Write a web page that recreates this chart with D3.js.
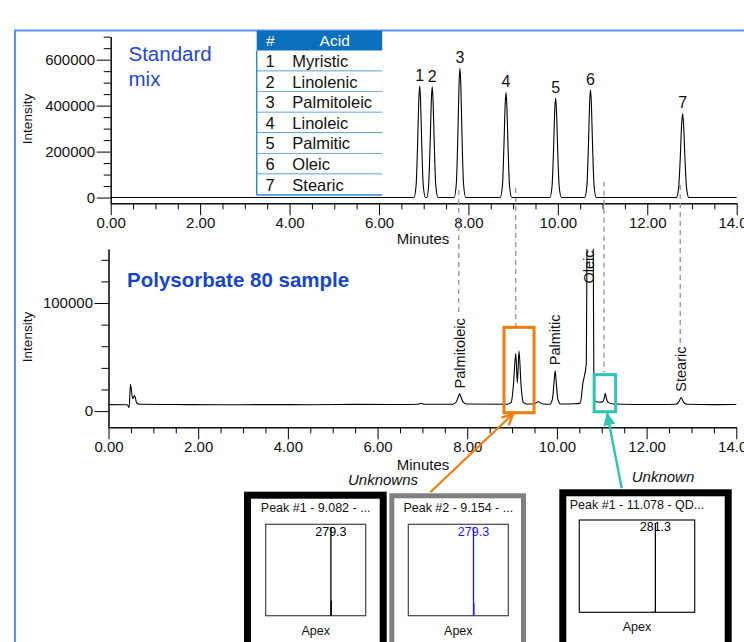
<!DOCTYPE html>
<html>
<head>
<meta charset="utf-8">
<script src="https://cdn.jsdelivr.net/npm/d3@7"></script>
<style>
  body { margin: 0; background: #fff; overflow: hidden; }
  svg { display: block; font-family: "Liberation Sans", Arial, sans-serif; }
</style>
</head>
<body>
<svg id="chart" width="744" height="642"></svg>
<script>
// ---------- data ----------
const acidNumbers = ['1', '2', '3', '4', '5', '6', '7'];
const acidNames = ['Myristic', 'Linolenic', 'Palmitoleic', 'Linoleic', 'Palmitic', 'Oleic', 'Stearic'];

const standardPeakTimes   = [6.91, 7.19, 7.81, 8.84, 9.95, 10.73, 12.79];
const standardPeakHeights = [486000, 483000, 563000, 458000, 433000, 470000, 366000];

// standard mix chromatogram [minutes, intensity]
const standardTrace = [
  [0, 0], [6.78, 0],
  [6.83, 53000], [6.865, 243000], [6.89, 423000], [6.91, 486000], [6.93, 423000], [6.955, 243000], [6.99, 53000], [7.04, 0],
  [7.07, 0], [7.11, 53000], [7.145, 241000], [7.17, 420000], [7.19, 483000], [7.21, 420000], [7.235, 241000], [7.27, 53000], [7.32, 0],
  [7.68, 0], [7.73, 62000], [7.765, 281000], [7.79, 490000], [7.81, 563000], [7.83, 490000], [7.855, 281000], [7.89, 62000], [7.94, 0],
  [8.71, 0], [8.76, 50000], [8.795, 229000], [8.82, 398000], [8.84, 458000], [8.86, 398000], [8.885, 229000], [8.92, 50000], [8.97, 0],
  [9.82, 0], [9.87, 48000], [9.905, 216000], [9.93, 377000], [9.95, 433000], [9.97, 377000], [9.995, 216000], [10.03, 48000], [10.08, 0],
  [10.6, 0], [10.65, 52000], [10.685, 235000], [10.71, 409000], [10.73, 470000], [10.75, 409000], [10.775, 235000], [10.81, 52000], [10.86, 0],
  [12.65, 0], [12.70, 40000], [12.74, 183000], [12.768, 318000], [12.79, 366000], [12.812, 318000], [12.84, 183000], [12.88, 40000], [12.93, 0],
  [14, 0]
];

// polysorbate 80 sample chromatogram [minutes, intensity]
const sampleTrace = [
  [0, 6000], [0.42, 5800], [0.46, 3200], [0.49, 24800], [0.54, 11500], [0.58, 14300], [0.63, 7500], [0.7, 6300],
  [1.5, 6100], [2.5, 5800], [3.5, 6000], [4.5, 5900], [5.5, 6200], [6.5, 6100],
  [6.9, 6300], [6.97, 7300], [7.04, 6300],
  [7.68, 6400], [7.75, 8200], [7.8, 13000], [7.83, 15900], [7.86, 13000], [7.91, 8200], [7.98, 6500],
  [8.9, 6400], [8.98, 8000], [9.03, 24000], [9.082, 53300], [9.118, 26000], [9.154, 55500], [9.2, 24000], [9.25, 8000], [9.32, 6600],
  [9.5, 6800], [9.58, 8600], [9.68, 6600],
  [9.84, 6400], [9.9, 11000], [9.93, 24000], [9.96, 37400], [9.99, 24000], [10.02, 11000], [10.08, 6500],
  [10.4, 6800], [10.52, 7400], [10.58, 26000], [10.655, 44000], [10.67, 150000], [10.7, 230000], [10.74, 250000],
  [10.79, 230000], [10.81, 150000], [10.825, 20000], [10.86, 8800], [10.95, 8200],
  [11.02, 8500], [11.05, 11000], [11.078, 16500], [11.11, 10500], [11.16, 7600], [11.25, 6600],
  [12.2, 6100], [12.65, 6300], [12.72, 8500], [12.77, 12500], [12.82, 8500], [12.9, 6300],
  [13.5, 6000], [14, 6100]
];

const sampleLabels      = ['Palmitoleic', 'Palmitic', 'Oleic', 'Stearic'];
const sampleLabelTimes  = [7.83, 9.96, 10.72, 12.77];
const sampleLabelBases  = [21000, 42500, 118000, 18000];

// dashed guides linking the two runs
const guideTimes        = [7.81, 9.082, 11.05, 12.75];
const guideTopValues    = [33000, 42000, 69000, 55000];
const guideBottomValues = [91500, 77500, 35500, 63000];

// axis ticks
const xMajorTicks = [0, 2, 4, 6, 8, 10, 12, 14];
const xMinorTicks = [0.5, 1, 1.5, 2.5, 3, 3.5, 4.5, 5, 5.5, 6.5, 7, 7.5, 8.5, 9, 9.5, 10.5, 11, 11.5, 12.5, 13, 13.5];
const topMajorTicks = [0, 200000, 400000, 600000];
const topMinorTicks = [50000, 100000, 150000, 250000, 300000, 350000, 450000, 500000, 550000, 650000, 700000];
const botMajorTicks = [0, 100000];
const botMinorTicks = [20000, 40000, 60000, 80000, 120000, 140000];

// highlighted regions [t0, t1, v0, v1]
const unknownsBox = [8.82, 9.49, -1500, 77500];
const unknownBox  = [10.83, 11.31, -600, 33700];

// MS spectra insets
const spectrumTitles = ['Peak #1 - 9.082 - ...', 'Peak #2 - 9.154 - ...', 'Peak #1 - 11.078 - QD...'];
const spectrumLabels = ['279.3', '279.3', '281.3'];
const spectrumMz     = [[279.3, 280.3], [279.3, 280.3], [281.3, 276.0]];
const spectrumRel    = [[100, 17], [100, 14], [100, 1]];
const spectrumColors = ['#000', '#1a1aff', '#000'];

// ---------- layout ----------
const font = '"Liberation Sans", Arial, sans-serif';
const svg = d3.select('#chart');

const xTop = d3.scaleLinear().domain([0, 14]).range([110.7, 736.7]);
const yTop = d3.scaleLinear().domain([-25000, 700000]).range([203.3, 36.7]);
const xBot = d3.scaleLinear().domain([0, 14]).range([108.5, 736.3]);
const yBot = d3.scaleLinear().domain([-15000, 150000]).range([427.3, 249]);

// outer frame
svg.append('rect')
  .attr('x', 15).attr('y', 30.5).attr('width', 760).attr('height', 650)
  .attr('fill', 'none').attr('stroke', '#5b93ee').attr('stroke-width', 2);

svg.append('defs').call(defs => {
  defs.append('clipPath').attr('id', 'clipBot')
    .append('rect').attr('x', 100).attr('y', yBot.range()[1]).attr('width', 640).attr('height', 200);
  defs.append('marker').attr('id', 'arrowOrange')
    .attr('viewBox', '0 0 12 12').attr('refX', 11).attr('refY', 6)
    .attr('markerWidth', 13).attr('markerHeight', 13).attr('markerUnits', 'userSpaceOnUse')
    .attr('orient', 'auto')
    .append('path').attr('d', 'M1,1 L11,6 L1,11').attr('fill', 'none')
      .attr('stroke', '#ef7d0a').attr('stroke-width', 2.2);
  defs.append('marker').attr('id', 'arrowTeal')
    .attr('viewBox', '0 0 12 12').attr('refX', 11).attr('refY', 6)
    .attr('markerWidth', 13).attr('markerHeight', 13).attr('markerUnits', 'userSpaceOnUse')
    .attr('orient', 'auto')
    .append('path').attr('d', 'M0,0.5 L12,6 L0,11.5 Z').attr('fill', '#2cc4b2');
});

function drawAxes(x, y, yMajor, yMinor, minutesY, intensityY) {
  const g = svg.append('g');
  const base = y.range()[0];
  const left = x.range()[0];

  g.append('g').attr('transform', `translate(0,${base})`)
    .call(d3.axisBottom(x).tickValues(xMinorTicks).tickSize(6).tickFormat('').tickSizeOuter(0));
  g.append('g').attr('transform', `translate(0,${base})`)
    .call(d3.axisBottom(x).tickValues(xMajorTicks).tickSize(12).tickPadding(2)
      .tickFormat(d3.format('.2f')).tickSizeOuter(0));
  g.append('g').attr('transform', `translate(${left},0)`)
    .call(d3.axisLeft(y).tickValues(yMinor).tickSize(7).tickFormat('').tickSizeOuter(0));
  g.append('g').attr('transform', `translate(${left},0)`)
    .call(d3.axisLeft(y).tickValues(yMajor).tickSize(14).tickPadding(1.5)
      .tickFormat(d3.format('d')).tickSizeOuter(0));

  g.selectAll('g').attr('font-size', 15).attr('font-family', font);
  g.selectAll('path.domain, line').attr('stroke', '#000');
  g.selectAll('text').attr('fill', '#111');

  g.append('text')
    .attr('x', 423).attr('y', minutesY).attr('text-anchor', 'middle')
    .attr('dy', '0.35em').attr('font-size', 15).attr('fill', '#111').text('Minutes');
  g.append('text')
    .attr('transform', `translate(27,${intensityY}) rotate(-90)`)
    .attr('text-anchor', 'middle').attr('dy', '0.35em')
    .attr('font-size', 13.5).attr('fill', '#111').text('Intensity');
}

drawAxes(xTop, yTop, topMajorTicks, topMinorTicks, 239, 119);
drawAxes(xBot, yBot, botMajorTicks, botMinorTicks, 465, 337);

// dashed guides
svg.append('g').selectAll('line')
  .data(guideTimes)
  .join('line')
    .attr('x1', d => xBot(d)).attr('x2', d => xBot(d))
    .attr('y1', (d, i) => yTop(guideTopValues[i]))
    .attr('y2', (d, i) => yBot(guideBottomValues[i]))
    .attr('stroke', '#9a9a9a').attr('stroke-width', 1.4)
    .attr('stroke-dasharray', '5,4');

// table of acids
const tbl = { x: 256.7, y: 30.7, w: 125.5, headH: 20, rowH: 20.6 };
const tg = svg.append('g');
tg.append('rect').attr('x', tbl.x).attr('y', tbl.y).attr('width', tbl.w).attr('height', tbl.headH)
  .attr('fill', '#0b6fbe');
tg.append('text').attr('x', tbl.x + 13.5).attr('y', tbl.y + tbl.headH / 2).attr('dy', '0.35em')
  .attr('text-anchor', 'middle').attr('fill', '#fff').attr('font-size', 15.5).text('#');
tg.append('text').attr('x', tbl.x + 78).attr('y', tbl.y + tbl.headH / 2).attr('dy', '0.35em')
  .attr('text-anchor', 'middle').attr('fill', '#fff').attr('font-size', 15.5).text('Acid');
const rows = tg.selectAll('g.row')
  .data(acidNames)
  .join('g').attr('class', 'row')
    .attr('transform', (d, i) => `translate(${tbl.x},${tbl.y + tbl.headH + i * tbl.rowH})`);
rows.append('rect').attr('width', tbl.w).attr('height', tbl.rowH).attr('fill', '#fff');
rows.append('line').attr('x1', 0).attr('x2', tbl.w).attr('y1', tbl.rowH).attr('y2', tbl.rowH)
  .attr('stroke', '#2f8ad0').attr('stroke-width', 1.5);
rows.append('text').attr('x', 13.5).attr('y', tbl.rowH / 2).attr('dy', '0.36em')
  .attr('text-anchor', 'middle').attr('font-size', 16.5).attr('fill', '#111')
  .text((d, i) => acidNumbers[i]);
rows.append('text').attr('x', 35.6).attr('y', tbl.rowH / 2).attr('dy', '0.36em')
  .attr('font-size', 16.5).attr('fill', '#111').text(d => d);
tg.append('line').attr('x1', tbl.x).attr('x2', tbl.x)
  .attr('y1', tbl.y + tbl.headH).attr('y2', tbl.y + tbl.headH + 7 * tbl.rowH)
  .attr('stroke', '#2f8ad0').attr('stroke-width', 1.5);

// titles
svg.append('text').attr('x', 128.5).attr('y', 60.5).attr('font-size', 20.5).attr('fill', '#1f48d6').text('Standard');
svg.append('text').attr('x', 128.5).attr('y', 85.5).attr('font-size', 20.5).attr('fill', '#1f48d6').text('mix');
svg.append('text').attr('x', 127).attr('y', 287).attr('font-size', 20.5).attr('font-weight', 'bold')
  .attr('fill', '#1546c9').text('Polysorbate 80 sample');

// traces
const lineTop = d3.line().x(d => xTop(d[0])).y(d => yTop(d[1])).curve(d3.curveMonotoneX);
const lineBot = d3.line().x(d => xBot(d[0])).y(d => yBot(d[1])).curve(d3.curveMonotoneX);

svg.append('path').datum(standardTrace)
  .attr('d', lineTop).attr('fill', 'none').attr('stroke', '#000').attr('stroke-width', 1.1);
svg.append('path').datum(sampleTrace)
  .attr('clip-path', 'url(#clipBot)')
  .attr('d', lineBot).attr('fill', 'none').attr('stroke', '#000').attr('stroke-width', 1.1);

// peak numbers on the standard
svg.append('g').selectAll('text')
  .data(standardPeakTimes)
  .join('text')
    .attr('x', d => xTop(d)).attr('y', (d, i) => yTop(standardPeakHeights[i]) - 5)
    .attr('text-anchor', 'middle').attr('font-size', 16).attr('fill', '#111')
    .text((d, i) => acidNumbers[i]);

// rotated names on the sample
svg.append('g').selectAll('text')
  .data(sampleLabels)
  .join('text')
    .attr('transform', (d, i) => `translate(${xBot(sampleLabelTimes[i])},${yBot(sampleLabelBases[i])}) rotate(-90)`)
    .attr('dy', '0.35em').attr('font-size', 14.5).attr('fill', '#111')
    .text(d => d);

// highlight boxes
function box(b, color) {
  svg.append('rect')
    .attr('x', xBot(b[0])).attr('y', yBot(b[3]))
    .attr('width', xBot(b[1]) - xBot(b[0])).attr('height', yBot(b[2]) - yBot(b[3]))
    .attr('fill', 'none').attr('stroke', color).attr('stroke-width', 3);
}
box(unknownsBox, '#ef7d0a');
box(unknownBox, '#2cc4b2');

// spectrum insets
const panelLayout = [
  { x: 244,   y: 491.7, w: 142.7, border: 7, color: '#000',    ix: 265.7, iy: 524.3, iw: 100,   ih: 91.4, titleY: 508, apexY: 631 },
  { x: 389.3, y: 493.3, w: 136.7, border: 5, color: '#7f7f7f', ix: 408.3, iy: 524.3, iw: 100,   ih: 91.4, titleY: 508, apexY: 631 },
  { x: 559.3, y: 489.3, w: 172.4, border: 7, color: '#000',    ix: 579.3, iy: 520,   iw: 115.4, ih: 92.3, titleY: 505, apexY: 627 }
];

panelLayout.forEach((p, k) => {
  const g = svg.append('g');
  g.append('rect')
    .attr('x', p.x + p.border / 2).attr('y', p.y + p.border / 2)
    .attr('width', p.w - p.border).attr('height', 200)
    .attr('fill', '#fff').attr('stroke', p.color).attr('stroke-width', p.border);
  const cx = p.ix + p.iw / 2;
  g.append('text').attr('x', cx).attr('y', p.titleY).attr('dy', '0.35em')
    .attr('text-anchor', 'middle').attr('font-size', 12.5).attr('fill', '#111')
    .text(spectrumTitles[k]);
  g.append('text').attr('x', cx).attr('y', p.apexY).attr('dy', '0.35em')
    .attr('text-anchor', 'middle').attr('font-size', 12.5).attr('fill', '#111')
    .text('Apex');
  g.append('rect').attr('x', p.ix).attr('y', p.iy).attr('width', p.iw).attr('height', p.ih)
    .attr('fill', '#fff').attr('stroke', k === 2 ? '#111' : '#444').attr('stroke-width', 1.2);

  const mz = d3.scaleLinear().domain([100, 375]).range([p.ix, p.ix + p.iw]);
  const rel = d3.scaleLinear().domain([0, 100]).range([p.iy + p.ih, p.iy + 3]);
  g.selectAll('line.stick')
    .data(spectrumMz[k])
    .join('line').attr('class', 'stick')
      .attr('x1', d => mz(d)).attr('x2', d => mz(d))
      .attr('y1', rel(0)).attr('y2', (d, i) => rel(spectrumRel[k][i]))
      .attr('stroke', spectrumColors[k]).attr('stroke-width', 1.3);
  g.append('text')
    .attr('x', mz(spectrumMz[k][0])).attr('y', rel(100) + 4).attr('dy', '0.35em')
    .attr('text-anchor', 'middle').attr('font-size', 12.5).attr('fill', spectrumColors[k])
    .text(spectrumLabels[k]);
});

// arrows from the insets up to the boxes
const p2 = panelLayout[1], p3 = panelLayout[2];
svg.append('line')
  .attr('x1', p2.x + 41).attr('y1', p2.y - 1)
  .attr('x2', xBot(9.02)).attr('y2', yBot(-2700))
  .attr('stroke', '#ef7d0a').attr('stroke-width', 2.2)
  .attr('marker-end', 'url(#arrowOrange)');
svg.append('line')
  .attr('x1', p3.x + 62.4).attr('y1', p3.y - 1)
  .attr('x2', xBot(11.12)).attr('y2', yBot(-2000))
  .attr('stroke', '#2cc4b2').attr('stroke-width', 2.4)
  .attr('marker-end', 'url(#arrowTeal)');

svg.append('text').attr('x', 383).attr('y', 480).attr('dy', '0.35em')
  .attr('text-anchor', 'middle').attr('font-size', 15).attr('font-style', 'italic')
  .attr('fill', '#111').text('Unknowns');
svg.append('text').attr('x', 663).attr('y', 477).attr('dy', '0.35em')
  .attr('text-anchor', 'middle').attr('font-size', 15).attr('font-style', 'italic')
  .attr('fill', '#111').text('Unknown');
</script>
</body>
</html>
